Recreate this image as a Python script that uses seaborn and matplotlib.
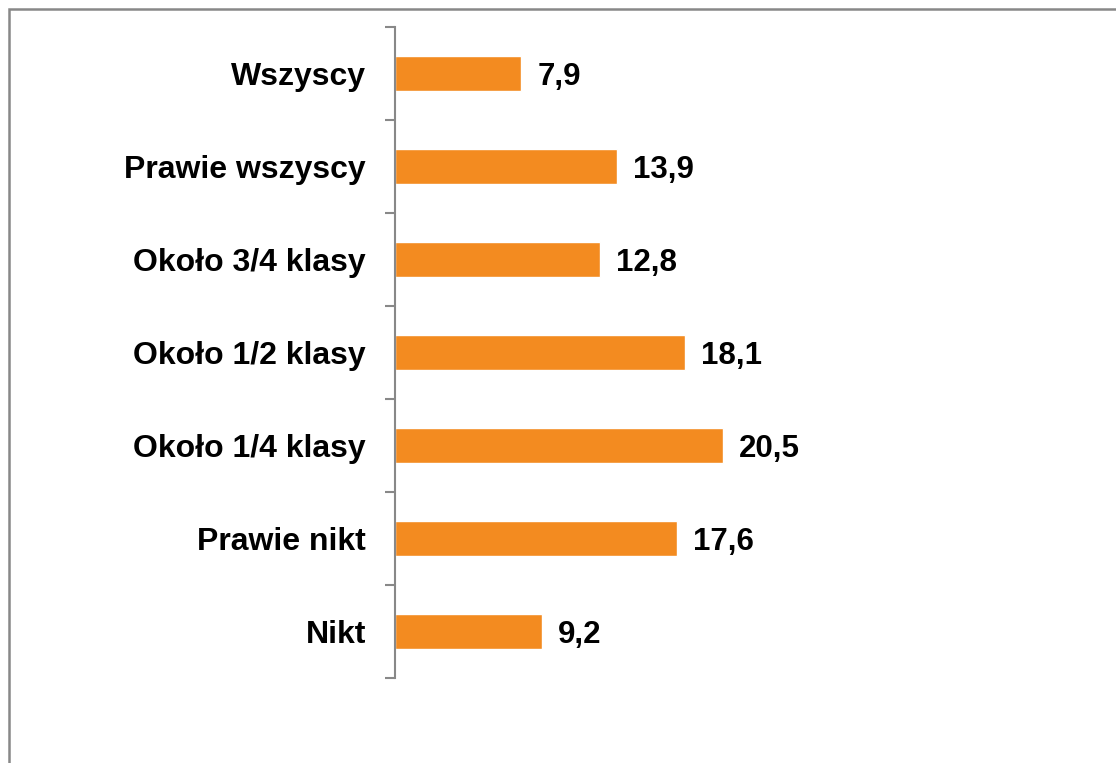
import pandas as pd
import seaborn as sns
import matplotlib.pyplot as plt
from matplotlib.patches import Rectangle

# Data
categories = ["Wszyscy", "Prawie wszyscy", "Około 3/4 klasy", "Około 1/2 klasy",
              "Około 1/4 klasy", "Prawie nikt", "Nikt"]
values = [7.9, 13.9, 12.8, 18.1, 20.5, 17.6, 9.2]

df = pd.DataFrame({"kategoria": categories, "procent": values})

sns.set_style("white")
plt.rcParams['font.family'] = ['Liberation Sans', 'DejaVu Sans']

fig = plt.figure(figsize=(11.16, 7.63), dpi=100)
ax = fig.add_axes([395 / 1116, 1 - 678 / 763, 680 / 1116, 651 / 763])

sns.barplot(data=df, x="procent", y="kategoria", orient="h", color="#F38B20",
            saturation=1, width=0.38, ax=ax)

ax.set_xlim(0, 42.5)
ax.set_ylim(len(categories) - 0.5, -0.5)

# value labels
for i, v in enumerate(values):
    ax.text(v + 1.0, i, f"{v:.1f}".replace(".", ","), va="center_baseline", ha="left",
            fontsize=22.5, fontweight="bold", color="black")

# axes styling
for s in ["top", "right", "bottom"]:
    ax.spines[s].set_visible(False)
ax.spines["left"].set_color("#888888")
ax.spines["left"].set_linewidth(1.5)
ax.set_xticks([])
ax.set_xlabel("")
ax.set_ylabel("")
ax.set_yticks(range(len(categories)))
ax.set_yticklabels(categories, fontsize=23, fontweight="bold", color="black")
ax.tick_params(axis="y", which="major", left=True, length=0, pad=21)
ax.set_yticks([i - 0.5 for i in range(len(categories) + 1)], minor=True)
ax.tick_params(axis="y", which="minor", left=True, length=7.5, width=1.5,
               color="#888888", direction="out")

# outer frame of the chart area
fig.patches.append(Rectangle((9 / 1116, -0.05), 1.2, 1 - 9 / 763 + 0.05,
                             transform=fig.transFigure, fill=False,
                             edgecolor="#888888", linewidth=1.8))

fig.savefig("out.png", dpi=100)
